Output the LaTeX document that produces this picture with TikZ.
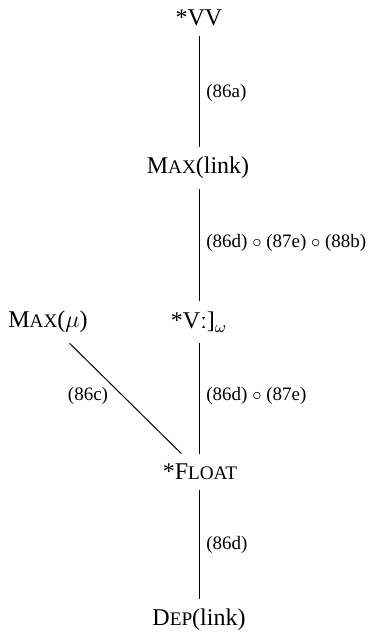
\documentclass[tikz,border=0pt]{standalone}
\usepackage{fontspec}
\setmainfont{Liberation Serif}
\newcommand{\fsc}[2]{#1{\fontsize{9.6pt}{10pt}\selectfont #2}}

\begin{document}
\begin{tikzpicture}[x=0.5pt, y=-0.5pt,
  form/.style={inner xsep=2pt, inner ysep=5pt, font=\fontsize{12pt}{14pt}\selectfont},
  edge/.style={line width=0.5pt},
  rule/.style={anchor=west, inner sep=1pt, font=\fontsize{9.5pt}{11pt}\selectfont},
]
\useasboundingbox (0,0) rectangle (389,639);

\node[form] (vv) at (199,18) {*VV};
\node[form] (maxlink) at (198,168) {\fsc{M}{AX}(link)};
\node[form] (maxmu) at (48,322) {\fsc{M}{AX}($\mu$)};
\node[form] (vlong) at (199,322) {*Vː]$_\omega$};
\node[form] (float) at (200,472) {*\fsc{F}{LOAT}};
\node[form] (deplink) at (199,620) {\fsc{D}{EP}(link)};

\draw[edge] (vv) -- (vv |- maxlink.north);
\draw[edge] (vv |- maxlink.south) -- (vv |- vlong.north);
\draw[edge] (vlong) -- (vlong |- float.north);
\draw[edge] (maxmu) -- (float);
\draw[edge] (vlong |- float.south) -- (vlong |- deplink.north);

\node[rule] at (204,93) {(86a)};
\node[rule] at (204,243) {(86d) $\circ$ (87e) $\circ$ (88b)};
\node[rule] at (204,396) {(86d) $\circ$ (87e)};
\node[rule, anchor=center] at (88,396) {(86c)};
\node[rule] at (204,545) {(86d)};

\end{tikzpicture}
\end{document}
